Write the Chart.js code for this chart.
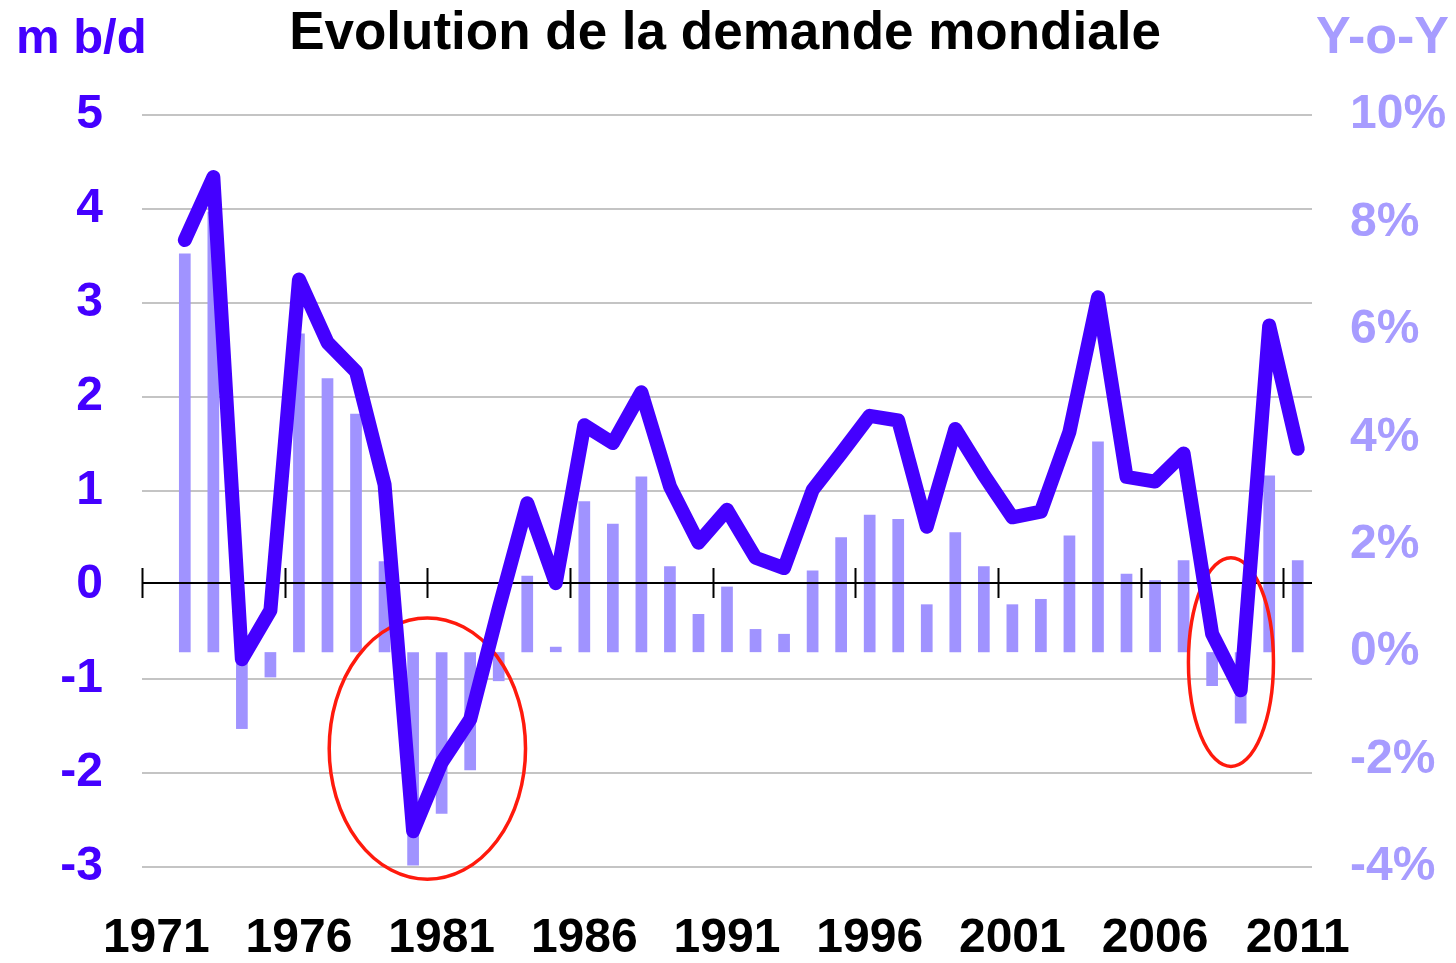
<!DOCTYPE html>
<html>
<head>
<meta charset="utf-8">
<title>Evolution de la demande mondiale</title>
<script src="https://cdn.jsdelivr.net/npm/chart.js@4.4.1/dist/chart.umd.min.js"></script>
<style>
  html, body { margin: 0; padding: 0; background: #fff; }
  canvas { display: block; }
</style>
</head>
<body>
<canvas id="demandChart" width="1456" height="963"></canvas>
<script>
// years on the category axis (1971 has no y-o-y value)
const years = [
  "1971", "1972", "1973", "1974", "1975", "1976", "1977", "1978", "1979", "1980",
  "1981", "1982", "1983", "1984", "1985", "1986", "1987", "1988", "1989", "1990",
  "1991", "1992", "1993", "1994", "1995", "1996", "1997", "1998", "1999", "2000",
  "2001", "2002", "2003", "2004", "2005", "2006", "2007", "2008", "2009", "2010",
  "2011"
];
const xTickYears = ["1971", "1976", "1981", "1986", "1991", "1996", "2001", "2006", "2011"];

// demand change, mb/d (left axis)
const demandChange = [
  null, 3.67, 4.34, -0.79, -0.27, 3.25, 2.58, 2.27, 1.07, -2.62,
  -1.89, -1.43, -0.25, 0.87, 0.02, 1.70, 1.51, 2.05, 1.05, 0.45,
  0.80, 0.29, 0.18, 1.01, 1.40, 1.80, 1.75, 0.62, 1.66, 1.17,
  0.72, 0.78, 1.63, 3.06, 1.15, 1.10, 1.40, -0.52, -1.12, 2.76,
  1.45
];

// year-over-year growth, % (right axis)
const yoyGrowth = [
  null, 7.42, 8.2, -1.43, -0.47, 5.93, 5.10, 4.44, 1.69, -3.97,
  -3.01, -2.20, -0.54, 1.42, 0.10, 2.81, 2.39, 3.27, 1.60, 0.71,
  1.22, 0.43, 0.34, 1.52, 2.14, 2.56, 2.48, 0.89, 2.23, 1.60,
  0.89, 0.99, 2.17, 3.92, 1.46, 1.34, 1.71, -0.63, -1.33, 3.29,
  1.71
];

// red circles around the two demand slumps (category index / mb/d units)
const highlights = [
  { x: 9.5, y: -1.74, rx: 3.44, ry: 1.39 },
  { x: 37.66, y: -0.82, rx: 1.49, ry: 1.11 }
];

const FONT = '"Liberation Sans", Arial, sans-serif';
const LINE_BLUE = "#4400ff";
const BAR_LILAC = "#a093ff";
const LABEL_LILAC = "#a79cff";

const overlayPlugin = {
  id: "overlay",
  // after the bars, before the line: zero axis with ticks and the red circles
  afterDatasetDraw(chart, args) {
    if (args.index !== 1) return;
    const ctx = chart.ctx;
    const x = chart.scales.x;
    const y = chart.scales.y;
    const area = chart.chartArea;
    const y0 = Math.round(y.getPixelForValue(0)) - 2;

    ctx.save();
    ctx.strokeStyle = "#000";
    ctx.lineWidth = 2;
    ctx.beginPath();
    ctx.moveTo(area.left, y0);
    ctx.lineTo(area.right, y0);
    for (let i = 0; i <= years.length; i += 5) {
      const px = Math.round(x.getPixelForValue(i - 0.5)) + 0.5;
      ctx.moveTo(px, y0 - 15);
      ctx.lineTo(px, y0 + 15);
    }
    ctx.stroke();

    ctx.strokeStyle = "#ff1a0d";
    ctx.lineWidth = 3.5;
    highlights.forEach(h => {
      const cx = x.getPixelForValue(h.x);
      const cy = y.getPixelForValue(h.y);
      const rx = Math.abs(x.getPixelForValue(h.x + h.rx) - cx);
      const ry = Math.abs(y.getPixelForValue(h.y + h.ry) - cy);
      ctx.beginPath();
      ctx.ellipse(cx, cy, rx, ry, 0, 0, Math.PI * 2);
      ctx.stroke();
    });
    ctx.restore();
  },
  afterDraw(chart) {
    const ctx = chart.ctx;
    ctx.save();
    ctx.textBaseline = "alphabetic";
    ctx.font = "bold 53px " + FONT;
    ctx.fillStyle = "#000";
    ctx.textAlign = "center";
    ctx.fillText("Evolution de la demande mondiale", 725, 49);

    ctx.font = "bold 49px " + FONT;
    ctx.fillStyle = LINE_BLUE;
    ctx.textAlign = "left";
    ctx.fillText("m b/d", 16, 53);

    ctx.font = "bold 52px " + FONT;
    ctx.fillStyle = LABEL_LILAC;
    ctx.textAlign = "right";
    ctx.fillText("Y-o-Y", 1449, 53);
    ctx.restore();
  }
};

new Chart(document.getElementById("demandChart"), {
  type: "bar",
  data: {
    labels: years,
    datasets: [
      {
        type: "line",
        label: "mb/d",
        data: demandChange,
        yAxisID: "y",
        order: 0,
        borderColor: LINE_BLUE,
        borderWidth: 14,
        borderJoinStyle: "round",
        borderCapStyle: "round",
        pointRadius: 0,
        tension: 0,
        fill: false
      },
      {
        type: "bar",
        label: "Y-o-Y",
        data: yoyGrowth,
        yAxisID: "yR",
        order: 1,
        backgroundColor: BAR_LILAC,
        borderWidth: 0,
        categoryPercentage: 1,
        barPercentage: 0.41
      }
    ]
  },
  options: {
    responsive: false,
    animation: false,
    devicePixelRatio: 1,
    layout: { padding: { top: 115, left: 0, right: 0, bottom: 0 } },
    plugins: {
      legend: { display: false },
      tooltip: { enabled: false }
    },
    scales: {
      x: {
        grid: { display: false, drawTicks: false },
        border: { display: false },
        ticks: {
          autoSkip: false,
          maxRotation: 0,
          padding: 43,
          color: "#000",
          font: { family: FONT, size: 48, weight: "bold" },
          callback: function (value) {
            const lbl = this.getLabelForValue(value);
            return xTickYears.includes(lbl) ? lbl : "";
          }
        },
        afterFit(scale) { scale.height = 96; }
      },
      y: {
        position: "left",
        min: -3,
        max: 5,
        grid: {
          drawTicks: false,
          lineWidth: 2,
          color: ctx => (ctx.tick && ctx.tick.value === 0 ? "rgba(0,0,0,0)" : "#c4c4c4")
        },
        border: { display: false },
        ticks: {
          stepSize: 1,
          padding: 39,
          color: LINE_BLUE,
          font: { family: FONT, size: 48, weight: "bold" }
        },
        afterFit(scale) { scale.width = 142; }
      },
      yR: {
        position: "right",
        min: -4,
        max: 10,
        grid: { display: false, drawTicks: false },
        border: { display: false },
        ticks: {
          stepSize: 2,
          padding: 38,
          color: LABEL_LILAC,
          font: { family: FONT, size: 48, weight: "bold" },
          callback: v => v + "%"
        },
        afterFit(scale) { scale.width = 144; }
      }
    }
  },
  plugins: [overlayPlugin]
});
</script>
</body>
</html>
